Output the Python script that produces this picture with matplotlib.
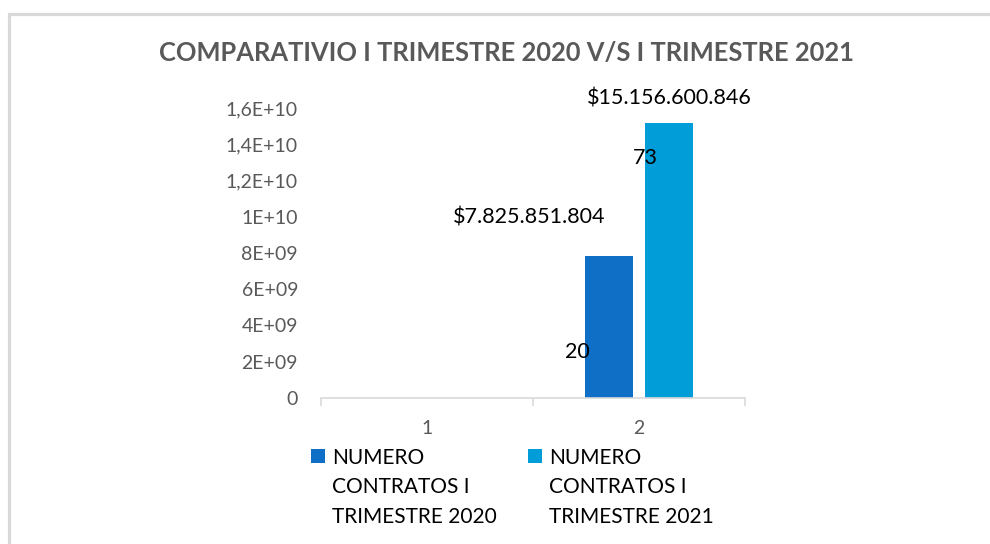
import matplotlib
matplotlib.use("Agg")
import matplotlib.pyplot as plt
from matplotlib.patches import Rectangle

# ---- data ----
categories = ["1", "2"]
series_names = ["NUMERO\nCONTRATOS I\nTRIMESTRE 2020", "NUMERO\nCONTRATOS I\nTRIMESTRE 2021"]
values_2020 = [20, 7825851804]
values_2021 = [73, 15156600846]
y_ticks = [0, 2e9, 4e9, 6e9, 8e9, 1e10, 1.2e10, 1.4e10, 1.6e10]
y_tick_labels = ["0", "2E+09", "4E+09", "6E+09", "8E+09", "1E+10", "1,2E+10", "1,4E+10", "1,6E+10"]
title = "COMPARATIVIO I TRIMESTRE 2020 V/S I TRIMESTRE 2021"

colors = ["#0F6FC6", "#009DD9"]
gray = "#595959"
FONT = "Lato"

W, H = 990, 544
fig = plt.figure(figsize=(W / 100, H / 100), dpi=100)
plt.rcParams["font.family"] = [FONT, "DejaVu Sans"]

# chart border
fig.patches.append(Rectangle((9 / W, -0.1), 1.2, 1.1 - 14 / H,
                             transform=fig.transFigure, fill=False,
                             edgecolor="#d9d9d9", linewidth=2.3))

ax = fig.add_axes([321 / W, 1 - 398 / H, (745 - 321) / W, (398 - 108) / H])

x = [1, 2]
off = 30 / 212
bw = 48 / 212
ax.bar([xi - off for xi in x], values_2020, width=bw, color=colors[0], label=series_names[0])
ax.bar([xi + off for xi in x], values_2021, width=bw, color=colors[1], label=series_names[1])

ax.set_xlim(0.5, 2.5)
ax.set_ylim(0, 1.6e10)
ax.set_yticks(y_ticks)
ax.set_yticklabels(y_tick_labels)
ax.set_xticks(x)
ax.set_xticklabels(categories)
ax.set_xticks([0.5, 1.5, 2.5], minor=True)
ax.tick_params(axis="y", length=0, pad=16.5, labelsize=14, labelcolor=gray)
ax.tick_params(axis="x", which="major", length=0, pad=16, labelsize=14, labelcolor=gray)
ax.tick_params(axis="x", which="minor", length=6, width=1.2, color="#d9d9d9")
for s in ["top", "right", "left"]:
    ax.spines[s].set_visible(False)
ax.spines["bottom"].set_color("#d9d9d9")
ax.spines["bottom"].set_linewidth(1.2)

def money(v):
    return "$" + f"{int(v):,}".replace(",", ".")

lab_kw = dict(textcoords="offset pixels", ha="center", va="center", fontsize=15.5, color="black")
# category 2 value labels
ax.annotate(money(values_2020[1]), (2 - off, values_2020[1]), xytext=(-80, 39), **lab_kw)
ax.annotate(money(values_2021[1]), (2 + off, values_2021[1]), xytext=(0, 25), **lab_kw)
# category 1 value labels (moved)
ax.annotate(str(values_2020[0]), (1 - off, values_2020[0]), xytext=(180, 46), **lab_kw)
ax.annotate(str(values_2021[0]), (1 + off, values_2021[0]), xytext=(188, 240), **lab_kw)

# title
fig.text(507 / W, 1 - 53 / H, title, ha="center", va="center", fontsize=18.4,
         fontweight="bold", color=gray)

# legend (manual)
leg_x = [311, 528]
for i in range(2):
    fig.patches.append(Rectangle((leg_x[i] / W, 1 - 463 / H), 14 / W, 14 / H,
                                 transform=fig.transFigure, facecolor=colors[i], edgecolor="none"))
    fig.text((leg_x[i] + 21) / W, 1 - 448 / H, series_names[i], ha="left", va="top",
             fontsize=15, color="black", linespacing=1.58)

fig.savefig("out.png", dpi=100)
